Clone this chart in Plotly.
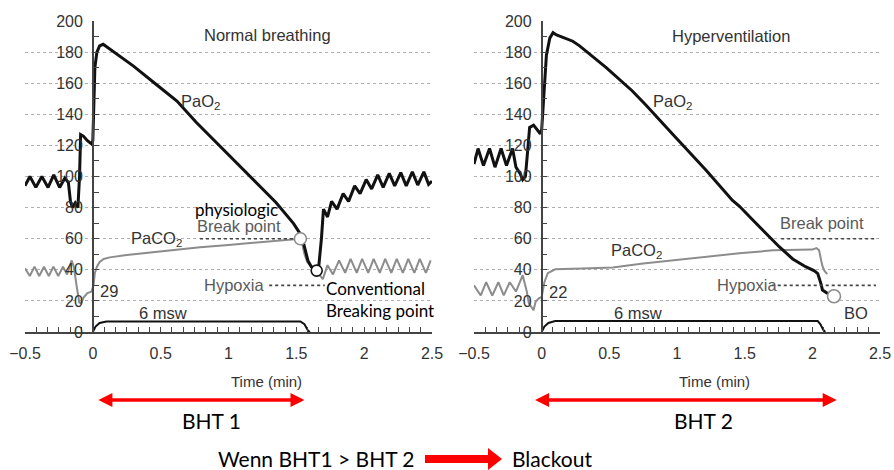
import plotly.graph_objects as go

# ---------------- data ----------------
# Left panel: Normal breathing
L_pao2_t = [-0.50, -0.464, -0.42, -0.376, -0.33, -0.288, -0.245, -0.206, -0.18, -0.165, -0.15, -0.13, -0.11,
            -0.098, -0.09, -0.07, -0.04, -0.01, 0.0, 0.008, 0.015, 0.03, 0.05, 0.076, 0.1, 0.175, 0.3, 0.47,
            0.62, 0.76, 0.91, 1.06, 1.2, 1.35, 1.48, 1.525, 1.545, 1.56, 1.585, 1.61, 1.64, 1.665, 1.685,
            1.70, 1.73, 1.76, 1.80, 1.845, 1.885, 1.93, 1.97, 2.015, 2.055, 2.10, 2.14, 2.185, 2.225, 2.27,
            2.31, 2.355, 2.395, 2.44, 2.475, 2.50]
L_pao2_v = [94, 100, 93, 100, 93, 101, 93, 99, 96, 84, 80, 83, 80,
            100, 127, 126, 123, 121, 123, 150, 170, 180, 184, 185, 183.5, 178.6, 171, 159,
            148.5, 135, 121.7, 108.8, 96.5, 83.3, 69.7, 63.6, 60, 54, 46, 42, 40, 42, 60,
            79, 74, 84, 79, 89, 84, 94, 89, 98, 92, 101, 93, 102, 94, 102.5,
            94, 103, 94.5, 103, 95, 97]
L_paco2_t = [-0.50, -0.465, -0.43, -0.395, -0.36, -0.325, -0.29, -0.255, -0.22, -0.19, -0.157, -0.14, -0.12,
             -0.10, -0.085, -0.07, -0.04, -0.01, 0.005, 0.015, 0.03, 0.05, 0.08, 0.125, 0.25, 0.35, 0.5,
             0.79, 1.0, 1.28, 1.48, 1.53, 1.545, 1.56, 1.58, 1.60, 1.625, 1.65, 1.67, 1.695,
             1.73, 1.77, 1.815, 1.86, 1.90, 1.945, 1.985, 2.03, 2.07, 2.115, 2.155, 2.20, 2.24, 2.285,
             2.325, 2.37, 2.41, 2.455, 2.49]
L_paco2_v = [41, 36, 42, 36, 42, 36, 42, 36, 42, 37, 46, 42, 30,
             19, 18.5, 22, 25, 26, 30, 38, 42, 45, 47, 48, 49.5, 50.5, 52,
             54.5, 56, 58, 59.5, 60, 56, 50, 45, 43, 42, 39, 36.5, 34,
             43, 37, 46, 38, 47, 38, 47, 38, 47, 38, 47, 38, 47, 38,
             47, 38, 47, 38, 46]
L_depth_t = [0.0, 0.02, 0.05, 0.1, 1.53, 1.56, 1.585, 1.60]
L_depth_v = [0, 3.5, 5.8, 6.8, 6.8, 5, 1, 0]

# Right panel: Hyperventilation
R_pao2_t = [-0.50, -0.47, -0.43, -0.385, -0.345, -0.30, -0.26, -0.215, -0.19, -0.16, -0.14, -0.12, -0.105,
            -0.089, -0.06, -0.035, -0.01, 0.0, 0.02, 0.035, 0.06, 0.084, 0.11, 0.23, 0.28, 0.477, 0.67,
            0.77, 0.97, 1.215, 1.41, 1.46, 1.56, 1.66, 1.757, 1.855, 1.95, 2.015, 2.04, 2.064, 2.075,
            2.11, 2.14]
R_pao2_v = [108, 118, 107, 118, 106, 118, 107, 118, 106, 102, 98, 100, 115,
            131.6, 133, 130, 127.5, 130, 161, 178, 189, 192.5, 191, 187, 184, 170, 155,
            146, 127, 104, 84.6, 81, 72, 63, 54.7, 47, 42, 39.3, 37.6, 31, 27,
            25, 23]
R_paco2_t = [-0.50, -0.45, -0.41, -0.365, -0.32, -0.28, -0.236, -0.19, -0.14, -0.11, -0.095, -0.06, -0.045,
             -0.02, 0.0, 0.02, 0.045, 0.1, 0.3, 0.525, 0.75, 0.97, 1.2, 1.46, 1.71, 1.85, 2.0, 2.03,
             2.05, 2.065, 2.076, 2.09, 2.11]
R_paco2_v = [30, 23.5, 32, 23.5, 32, 23.5, 32, 26, 36.5, 26, 18.6, 14, 19.5,
             21.7, 22.6, 32, 37.8, 40.3, 40.8, 41.5, 44, 46, 48.5, 50.6, 52.5, 52.8, 53, 54,
             52.6, 46, 42, 39.3, 37.2]
R_depth_t = [0.0, 0.02, 0.05, 0.1, 2.04, 2.06, 2.08, 2.095]
R_depth_v = [0, 3.5, 5.8, 7, 7, 5, 1.5, 0]

# marked events (time, value)
L_physio_bp = ([1.53], [60])
L_conv_bp = ([1.65], [39.5])
R_blackout = ([2.16], [23])

# dotted reference levels (x extent, level)
L_break_line = ([0.79, 1.50], [60, 60])
L_hypox_line = ([1.30, 1.71], [30, 30])
R_break_line = ([1.77, 2.47], [60, 60])
R_hypox_line = ([1.70, 2.47], [30, 30])

# breath-hold time spans (min)
BHT1_span = [0.03, 1.56]
BHT2_span = [-0.06, 2.18]

x_ticks = [-0.5, 0, 0.5, 1, 1.5, 2, 2.5]
y_ticks = list(range(0, 201, 20))

# ---------------- layout helpers ----------------
W, H = 894, 470
def px(x):
    return x / W
def py(y):
    return 1 - y / H

ARIAL = "Liberation Sans, Arial, sans-serif"
CALIBRI = "Lato, Carlito, Calibri, sans-serif"
TXT = "#333333"
GRAY_TXT = "#5a5a5a"
CO2_COL = "#8c8c8c"
ANN_SIZE = 16.5

XL = [px(25), px(432)]
XR = [px(474), px(880)]
YD = [py(332), py(21)]
XRANGE = [-0.5, 2.5]

def zero_pos(dom):
    return dom[0] + (0 - XRANGE[0]) / (XRANGE[1] - XRANGE[0]) * (dom[1] - dom[0])

fig = go.Figure()

def line(t, v, xa, ya, color, width):
    fig.add_trace(go.Scatter(x=t, y=v, mode="lines", xaxis=xa, yaxis=ya,
                             line=dict(color=color, width=width), hoverinfo="skip", showlegend=False))

def dotted(pair, xa, ya):
    fig.add_trace(go.Scatter(x=pair[0], y=pair[1], mode="lines", xaxis=xa, yaxis=ya,
                             line=dict(color="#444444", width=1.6, dash="dot"), hoverinfo="skip", showlegend=False))

def circle(pair, xa, ya, color, size):
    fig.add_trace(go.Scatter(x=pair[0], y=pair[1], mode="markers", xaxis=xa, yaxis=ya, cliponaxis=False,
                             marker=dict(size=size, color="white", line=dict(color=color, width=1.6)),
                             hoverinfo="skip", showlegend=False))

# left panel
line(L_depth_t, L_depth_v, "x", "y", "#111111", 2)
line(L_paco2_t, L_paco2_v, "x", "y", CO2_COL, 2)
line(L_pao2_t, L_pao2_v, "x", "y", "#111111", 3)
dotted(L_break_line, "x", "y")
dotted(L_hypox_line, "x", "y")
circle(L_physio_bp, "x", "y", CO2_COL, 12)
circle(L_conv_bp, "x", "y", "#111111", 11)

# right panel
line(R_depth_t, R_depth_v, "x2", "y2", "#111111", 2)
line(R_paco2_t, R_paco2_v, "x2", "y2", CO2_COL, 2)
line(R_pao2_t, R_pao2_v, "x2", "y2", "#111111", 3)
dotted(R_break_line, "x2", "y2")
dotted(R_hypox_line, "x2", "y2")
circle(R_blackout, "x2", "y2", CO2_COL, 13)

def xaxis(dom, ya):
    return dict(domain=dom, range=XRANGE, anchor=ya, tickvals=x_ticks, ticks="inside", ticklen=5,
                tickcolor="#444444", tickwidth=1.2, showline=True, linecolor="#444444", linewidth=2,
                showgrid=False, zeroline=False, ticklabelstandoff=6, automargin=False,
                tickfont=dict(family=ARIAL, size=16, color=TXT),
                minor=dict(dtick=1/12, tick0=0, ticks="inside", ticklen=5, tickcolor="#444444", tickwidth=1.2))

def yaxis(dom_x):
    return dict(domain=YD, range=[0, 200], anchor="free", position=zero_pos(dom_x), automargin=False,
                tickvals=y_ticks, ticks="inside", ticklen=5, tickcolor="#444444", tickwidth=1.2,
                showline=True, linecolor="#444444", linewidth=1.6, zeroline=False,
                showgrid=True, gridcolor="#b0b0b0", gridwidth=1, griddash="dot",
                ticklabelstandoff=6, tickfont=dict(family=ARIAL, size=16, color=TXT),
                minor=dict(dtick=10, ticks="inside", ticklen=5, tickcolor="#444444", tickwidth=1.2, showgrid=False))

annotations = []
def ann(text, x, y, xr, yr, size=ANN_SIZE, color=TXT, family=ARIAL, xanchor="center", align="center"):
    annotations.append(dict(text=text, x=x, y=y, xref=xr, yref=yr, showarrow=False, xanchor=xanchor,
                            yanchor="middle", align=align, font=dict(family=family, size=size, color=color)))

# left panel texts
ann("Normal breathing", 1.29, 191, "x", "y")
ann("PaO<sub>2</sub>", 0.79, 148, "x", "y")
ann("PaCO<sub>2</sub>", 0.47, 60, "x", "y")
ann("physiologic", 1.06, 79, "x", "y", size=17, color="#000000", family=CALIBRI)
ann("Break point", 1.08, 68, "x", "y", color=GRAY_TXT)
ann("Hypoxia", 1.04, 30, "x", "y", color=GRAY_TXT)
ann("Conventional<br>Breaking point", 1.705, 21, "x", "y", size=17, color="#000000", family=CALIBRI,
    xanchor="left", align="left")
ann("29", 0.12, 26.5, "x", "y")
ann("6 msw", 0.52, 12, "x", "y")
ann("Time (min)", 1.28, py(381), "x", "paper", size=15)

# right panel texts
ann("Hyperventilation", 1.40, 190.5, "x2", "y2")
ann("PaO<sub>2</sub>", 0.97, 148, "x2", "y2")
ann("PaCO<sub>2</sub>", 0.70, 52, "x2", "y2")
ann("Break point", 2.07, 70, "x2", "y2", color=GRAY_TXT)
ann("Hypoxia", 1.52, 30, "x2", "y2", color=GRAY_TXT)
ann("22", 0.12, 26, "x2", "y2")
ann("6 msw", 0.71, 12.5, "x2", "y2")
ann("BO", 2.32, 12, "x2", "y2")
ann("Time (min)", 1.28, py(381), "x2", "paper", size=15)

# BHT arrows
for span, xr in ((BHT1_span, "x"), (BHT2_span, "x2")):
    annotations.append(dict(text="", x=span[1], y=py(400), xref=xr, yref="paper",
                            ax=span[0], ay=0, axref=xr, ayref="pixel", showarrow=True,
                            arrowside="end+start", arrowhead=2, startarrowhead=2, arrowwidth=3.5,
                            arrowsize=0.8, startarrowsize=0.8, arrowcolor="#ff0000", standoff=0, startstandoff=0))
ann("BHT 1", px(211), py(420), "paper", "paper", size=21, color="#000000", family=CALIBRI)
ann("BHT 2", px(703), py(420), "paper", "paper", size=21, color="#000000", family=CALIBRI)
ann("Wenn BHT1 &gt; BHT 2", px(417), py(458), "paper", "paper", size=21, color="#000000", family=CALIBRI,
    xanchor="right")
ann("Blackout", px(510), py(458), "paper", "paper", size=21, color="#000000", family=CALIBRI, xanchor="left")

# block arrow between the bottom texts
a_path = (f"M {px(425)},{py(455)} L {px(488)},{py(455)} L {px(488)},{py(448)} L {px(502)},{py(459)} "
          f"L {px(488)},{py(470)} L {px(488)},{py(463)} L {px(425)},{py(463)} Z")
shapes = [dict(type="path", path=a_path, xref="paper", yref="paper", fillcolor="#ff0000",
               line=dict(width=0))]

fig.update_layout(
    width=W, height=H, margin=dict(l=0, r=0, t=0, b=0, autoexpand=False),
    paper_bgcolor="white", plot_bgcolor="white", showlegend=False,
    xaxis=xaxis(XL, "y"), yaxis=yaxis(XL),
    xaxis2=xaxis(XR, "y2"), yaxis2=yaxis(XR),
    annotations=annotations, shapes=shapes,
)

fig.write_html("out.html")
